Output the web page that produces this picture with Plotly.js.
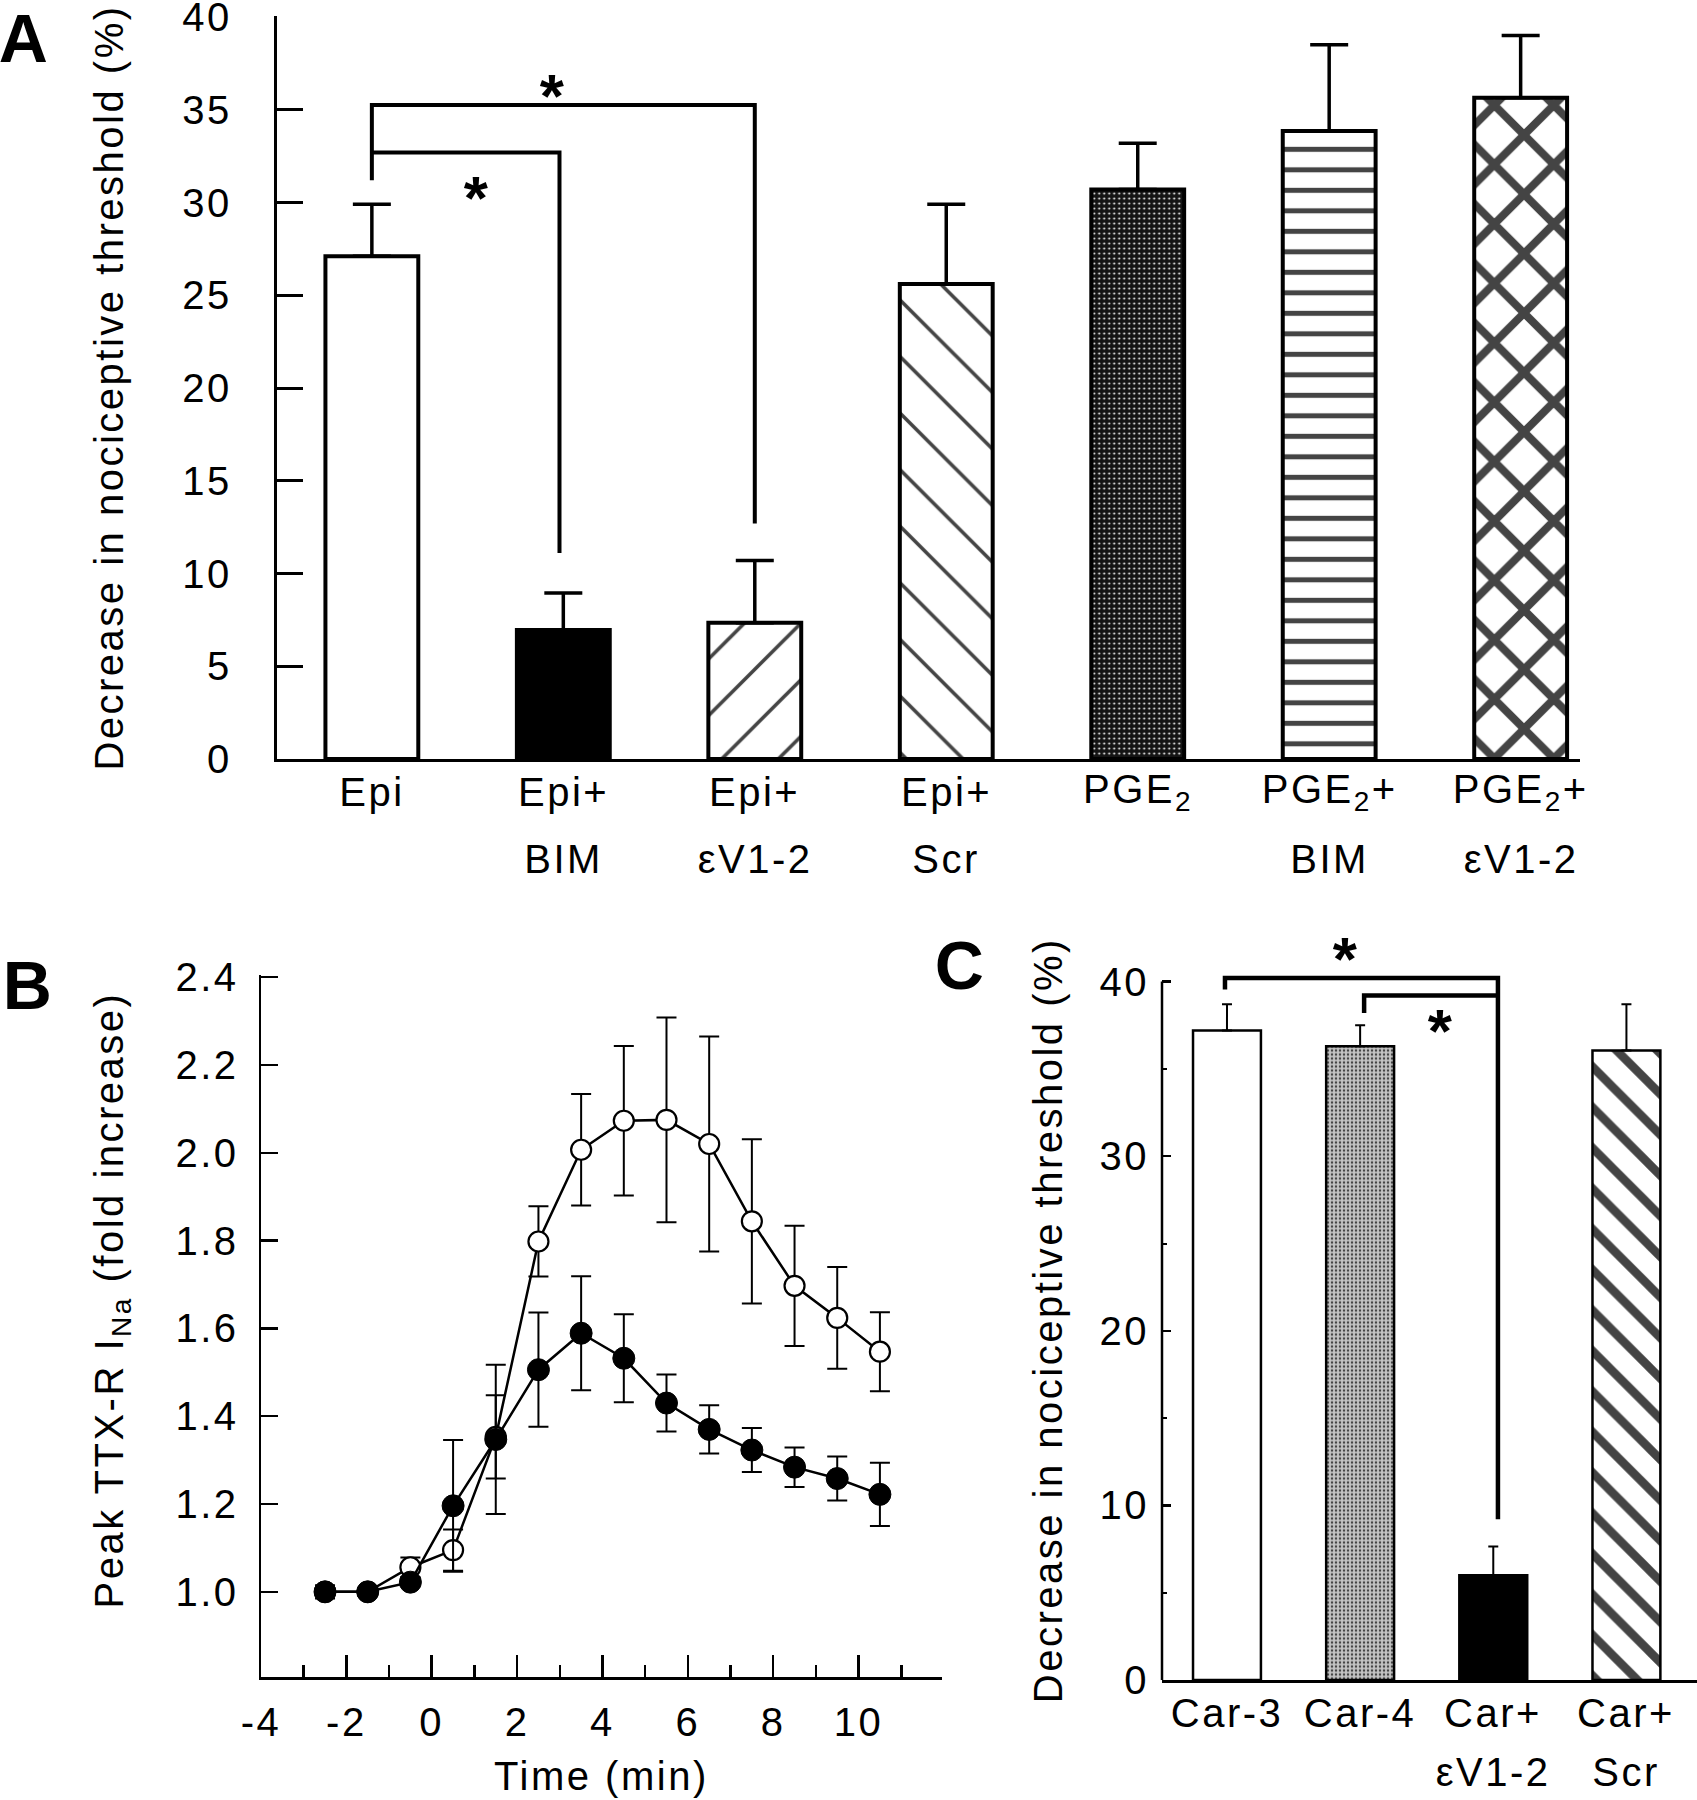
<!DOCTYPE html>
<html>
<head>
<meta charset="utf-8">
<script src="https://cdn.plot.ly/plotly-3.0.1.min.js"></script>
<style>
html, body { margin: 0; padding: 0; background: #ffffff; }
#chart text { letter-spacing: 2.5px; }
</style>
</head>
<body>
<div id="chart" style="width:1697px;height:1800px;"></div>
<script>
// ---------------- Panel A data ----------------
const aCategories = ['Epi', 'Epi+BIM', 'Epi+εV1-2', 'Epi+Scr', 'PGE2', 'PGE2+BIM', 'PGE2+εV1-2'];
const aLabelTop = ['Epi', 'Epi+', 'Epi+', 'Epi+', 'PGE<sub>2</sub>', 'PGE<sub>2</sub>+', 'PGE<sub>2</sub>+'];
const aLabelBottom = ['', 'BIM', 'εV1-2', 'Scr', '', 'BIM', 'εV1-2'];
const aMeans = [27.1, 6.95, 7.35, 25.6, 30.7, 33.85, 35.65];
const aSem = [2.8, 2.0, 3.35, 4.3, 2.5, 4.65, 3.35];
const aYTicks = [0, 5, 10, 15, 20, 25, 30, 35, 40];
const aBracketFrom = [0, 0];
const aBracketTo = [2, 0.98];
const aBracketLevel = [35.26, 32.7];
const aBracketFromEnd = [31.2, 32.7];
const aBracketToEnd = [12.7, 11.1];
const aStarX = [0.95, 0.55];
const aStarY = [36.5, 31.05];

// ---------------- Panel B data ----------------
const bTime = [-2.5, -1.5, -0.5, 0.5, 1.5, 2.5, 3.5, 4.5, 5.5, 6.5, 7.5, 8.5, 9.5, 10.5];
const bOpenMean = [1.0, 1.0, 1.056, 1.095, 1.353, 1.798, 2.007, 2.073, 2.075, 2.02, 1.844, 1.697, 1.624, 1.547];
const bOpenSem = [0.0, 0.0, 0.022, 0.047, 0.095, 0.08, 0.127, 0.17, 0.233, 0.245, 0.187, 0.137, 0.116, 0.09];
const bFilledMean = [1.0, 1.0, 1.022, 1.196, 1.347, 1.506, 1.589, 1.532, 1.43, 1.37, 1.323, 1.284, 1.258, 1.222];
const bFilledSem = [0.015, 0.01, 0.01, 0.15, 0.17, 0.13, 0.13, 0.1, 0.065, 0.055, 0.05, 0.045, 0.05, 0.072];
const bYTicks = [1.0, 1.2, 1.4, 1.6, 1.8, 2.0, 2.2, 2.4];
const bXTicks = [-4, -2, 0, 2, 4, 6, 8, 10];
const bXMinorTicks = [-3, -1, 1, 3, 5, 7, 9, 11];

// ---------------- Panel C data ----------------
const cCategories = ['Car-3', 'Car-4', 'Car+εV1-2', 'Car+Scr'];
const cLabelTop = ['Car-3', 'Car-4', 'Car+', 'Car+'];
const cLabelBottom = ['', '', 'εV1-2', 'Scr'];
const cMeans = [37.2, 36.3, 6.0, 36.05];
const cSem = [1.5, 1.2, 1.65, 2.65];
const cYTicks = [0, 10, 20, 30, 40];
const cYMinorTicks = [5, 15, 25, 35];
const cBracketFrom = [-0.015, 1.03];
const cBracketTo = [2.035, 2.035];
const cBracketLevel = [40.2, 39.2];
const cBracketFromEnd = [39.55, 38.2];
const cBracketToEnd = [9.2, 39.2];
const cStarX = [0.895, 1.61];
const cStarY = [42.1, 38.0];

// ---------------- helpers / styles ----------------
const W = 1697, H = 1800;
const px = v => v / W;          // pixel -> paper x
const py = v => 1 - v / H;      // pixel -> paper y
const FONT = 'Liberation Sans, Arial, Helvetica, sans-serif';
const BLACK = '#000000';

const aBarColor = ['#ffffff', '#000000', '#ffffff', '#ffffff', '#141414', '#ffffff', '#ffffff'];
const aPatShape = ['', '', '/', '\\', '.', '-', 'x'];
const aPatFg = ['#000', '#000', '#000', '#000', '#ffffff', '#000', '#000'];
const aPatSize = [10, 10, 40, 40, 5, 20.5, 42];
const aPatSolid = [0.2, 0.2, 0.09, 0.09, 0.13, 0.245, 0.34];

const cBarColor = ['#ffffff', '#c4c4c4', '#000000', '#ffffff'];
const cPatShape = ['', '.', '', '\\'];
const cPatFg = ['#000', '#5a5a5a', '#000', '#000'];
const cPatSize = [10, 4, 10, 28.7];
const cPatSolid = [0.2, 0.3, 0.2, 0.3];

function bracketPath(from, to, level, fromEnd, toEnd) {
  return 'M' + from + ',' + fromEnd + ' L' + from + ',' + level +
         ' L' + to + ',' + level + ' L' + to + ',' + toEnd;
}

// ---------------- traces ----------------
const traceA = {
  type: 'bar',
  x: aCategories.map((c, i) => i),
  y: aMeans,
  width: 0.485,
  xaxis: 'x', yaxis: 'y',
  marker: {
    color: aBarColor,
    line: { color: BLACK, width: 4 },
    pattern: { shape: aPatShape, fgcolor: aPatFg, size: aPatSize, solidity: aPatSolid,
               fillmode: 'overlay', fgopacity: 1 }
  },
  error_y: { type: 'data', symmetric: false, array: aSem, arrayminus: aSem.map(() => 0),
             color: BLACK, thickness: 3.5, width: 19 },
  showlegend: false, hoverinfo: 'skip'
};

const traceBOpen = {
  type: 'scatter', mode: 'lines+markers',
  x: bTime, y: bOpenMean, xaxis: 'x2', yaxis: 'y2',
  line: { color: BLACK, width: 2.5 },
  marker: { symbol: 'circle', size: 20, color: '#ffffff', line: { color: BLACK, width: 2.2 } },
  error_y: { type: 'data', array: bOpenSem, color: BLACK, thickness: 2, width: 10 },
  cliponaxis: false, showlegend: false, hoverinfo: 'skip'
};

const traceBFilled = {
  type: 'scatter', mode: 'lines+markers',
  x: bTime, y: bFilledMean, xaxis: 'x2', yaxis: 'y2',
  line: { color: BLACK, width: 2.5 },
  marker: { symbol: 'circle', size: 22, color: BLACK, line: { color: BLACK, width: 1 } },
  error_y: { type: 'data', array: bFilledSem, color: BLACK, thickness: 2, width: 10 },
  cliponaxis: false, showlegend: false, hoverinfo: 'skip'
};

const traceC = {
  type: 'bar',
  x: cCategories.map((c, i) => i),
  y: cMeans,
  width: 0.51,
  xaxis: 'x3', yaxis: 'y3',
  marker: {
    color: cBarColor,
    line: { color: BLACK, width: 2.5 },
    pattern: { shape: cPatShape, fgcolor: cPatFg, size: cPatSize, solidity: cPatSolid,
               fillmode: 'overlay', fgopacity: 1 }
  },
  error_y: { type: 'data', symmetric: false, array: cSem, arrayminus: cSem.map(() => 0),
             color: BLACK, thickness: 2, width: 5 },
  showlegend: false, hoverinfo: 'skip'
};

// ---------------- shapes ----------------
const shapes = [];
aBracketFrom.forEach((f, i) => {
  shapes.push({ type: 'path', xref: 'x', yref: 'y', layer: 'above',
    path: bracketPath(f, aBracketTo[i], aBracketLevel[i], aBracketFromEnd[i], aBracketToEnd[i]),
    line: { color: BLACK, width: 4 }, fillcolor: 'rgba(0,0,0,0)' });
});
cBracketFrom.forEach((f, i) => {
  shapes.push({ type: 'path', xref: 'x3', yref: 'y3', layer: 'above',
    path: bracketPath(f, cBracketTo[i], cBracketLevel[i], cBracketFromEnd[i], cBracketToEnd[i]),
    line: { color: BLACK, width: 4.5 }, fillcolor: 'rgba(0,0,0,0)' });
});
// panel C y-axis line (ends at the top tick)
shapes.push({ type: 'line', xref: 'x3 domain', yref: 'y3', x0: 0, x1: 0,
  y0: cYTicks[0], y1: cYTicks[cYTicks.length - 1], line: { color: BLACK, width: 2.5 } });

// ---------------- annotations ----------------
const annotations = [];
const labFont = { family: FONT, size: 40, color: BLACK };
aLabelTop.forEach((t, i) => {
  annotations.push({ xref: 'x', yref: 'paper', x: i, y: py(792), text: t, showarrow: false,
    xanchor: 'center', yanchor: 'middle', font: labFont });
  if (aLabelBottom[i]) annotations.push({ xref: 'x', yref: 'paper', x: i, y: py(859),
    text: aLabelBottom[i], showarrow: false, xanchor: 'center', yanchor: 'middle', font: labFont });
});
cLabelTop.forEach((t, i) => {
  annotations.push({ xref: 'x3', yref: 'paper', x: i, y: py(1713), text: t, showarrow: false,
    xanchor: 'center', yanchor: 'middle', font: labFont });
  if (cLabelBottom[i]) annotations.push({ xref: 'x3', yref: 'paper', x: i, y: py(1772),
    text: cLabelBottom[i], showarrow: false, xanchor: 'center', yanchor: 'middle', font: labFont });
});
const starFont = { family: FONT, size: 62, color: BLACK, weight: 'bold' };
aStarX.forEach((x, i) => annotations.push({ xref: 'x', yref: 'y', x: x, y: aStarY[i], text: '*',
  showarrow: false, xanchor: 'center', yanchor: 'middle', yshift: -14, font: starFont }));
cStarX.forEach((x, i) => annotations.push({ xref: 'x3', yref: 'y3', x: x, y: cStarY[i], text: '*',
  showarrow: false, xanchor: 'center', yanchor: 'middle', yshift: -14, font: starFont }));
const panelFont = { family: FONT, size: 68, color: BLACK, weight: 'bold' };
[['A', 24, 38], ['B', 29, 985], ['C', 960, 965]].forEach(p => annotations.push({
  xref: 'paper', yref: 'paper', x: px(p[1]), y: py(p[2]), text: '<b>' + p[0] + '</b>',
  showarrow: false, xanchor: 'center', yanchor: 'middle', font: panelFont }));
// rotated y titles for panels B and C
annotations.push({ xref: 'paper', yref: 'paper', x: px(112), y: py(1300), textangle: -90,
  text: 'Peak TTX-R I<sub>Na</sub> (fold increase)', showarrow: false,
  xanchor: 'center', yanchor: 'middle', font: { family: FONT, size: 40, color: BLACK } });
annotations.push({ xref: 'paper', yref: 'paper', x: px(1048), y: py(1320), textangle: -90,
  text: 'Decrease in nociceptive threshold (%)', showarrow: false,
  xanchor: 'center', yanchor: 'middle', font: { family: FONT, size: 40, color: BLACK } });

// ---------------- layout ----------------
const tickFont = { family: FONT, size: 40, color: BLACK };
const A_TOP = 40.05;
const C_TOP = 43.5;
const layout = {
  width: W, height: H,
  margin: { l: 0, r: 0, t: 0, b: 0 },
  paper_bgcolor: '#ffffff', plot_bgcolor: 'rgba(0,0,0,0)',
  font: { family: FONT, color: BLACK },
  showlegend: false,
  bargap: 0,
  // Panel A
  xaxis: { domain: [px(276.7), px(1580)], range: [-0.497, 6.31], anchor: 'y',
    showline: true, linecolor: BLACK, linewidth: 3, ticks: '', showticklabels: false,
    showgrid: false, zeroline: false, fixedrange: true },
  yaxis: { domain: [py(759), py(759 - A_TOP * 18.55)], range: [0, A_TOP], anchor: 'x',
    showline: true, linecolor: BLACK, linewidth: 3,
    tickvals: aYTicks, ticktext: aYTicks.map(String),
    ticks: 'inside', ticklen: 26, tickwidth: 3, tickcolor: BLACK,
    tickfont: tickFont, ticklabelstandoff: 34, ticklabeloverflow: 'allow',
    showgrid: false, zeroline: false, fixedrange: true,
    title: { text: 'Decrease in nociceptive threshold (%)', font: { family: FONT, size: 40, color: BLACK }, standoff: 52 } },
  // Panel B
  xaxis2: { domain: [px(261), px(941.8)], range: [-4, 11.95], anchor: 'y2',
    showline: true, linecolor: BLACK, linewidth: 2.5,
    tickvals: bXTicks, ticktext: bXTicks.map(String),
    ticks: 'inside', ticklen: 22, tickwidth: 2.5, tickcolor: BLACK,
    minor: { tickvals: bXMinorTicks, ticks: 'inside', ticklen: 12, tickwidth: 2.5, tickcolor: BLACK, showgrid: false },
    tickfont: tickFont, ticklabelstandoff: 8, ticklabeloverflow: 'allow',
    showgrid: false, zeroline: false, fixedrange: true,
    title: { text: 'Time (min)', font: { family: FONT, size: 40, color: BLACK }, standoff: 20 } },
  yaxis2: { domain: [py(1677), py(975)], range: [0.806, 2.405], anchor: 'x2',
    showline: true, linecolor: BLACK, linewidth: 2.5,
    tickvals: bYTicks, ticktext: bYTicks.map(v => v.toFixed(1)),
    ticks: 'inside', ticklen: 17, tickwidth: 2.5, tickcolor: BLACK,
    tickfont: tickFont, ticklabelstandoff: 12, ticklabeloverflow: 'allow',
    showgrid: false, zeroline: false, fixedrange: true },
  // Panel C
  xaxis3: { domain: [px(1162), 1], range: [-0.488, 3.53], anchor: 'y3',
    showline: true, linecolor: BLACK, linewidth: 2.5, ticks: '', showticklabels: false,
    showgrid: false, zeroline: false, fixedrange: true },
  yaxis3: { domain: [py(1680), py(1680 - C_TOP * 17.46)], range: [0, C_TOP], anchor: 'x3',
    showline: false,
    tickvals: cYTicks, ticktext: cYTicks.map(String),
    ticks: 'inside', ticklen: 9, tickwidth: 2.5, tickcolor: BLACK,
    minor: { tickvals: cYMinorTicks, ticks: 'inside', ticklen: 5, tickwidth: 2, tickcolor: BLACK, showgrid: false },
    tickfont: tickFont, ticklabelstandoff: 12, ticklabeloverflow: 'allow',
    showgrid: false, zeroline: false, fixedrange: true },
  shapes: shapes,
  annotations: annotations
};

Plotly.newPlot('chart', [traceA, traceBOpen, traceBFilled, traceC], layout, { staticPlot: true, displayModeBar: false });
</script>
</body>
</html>
